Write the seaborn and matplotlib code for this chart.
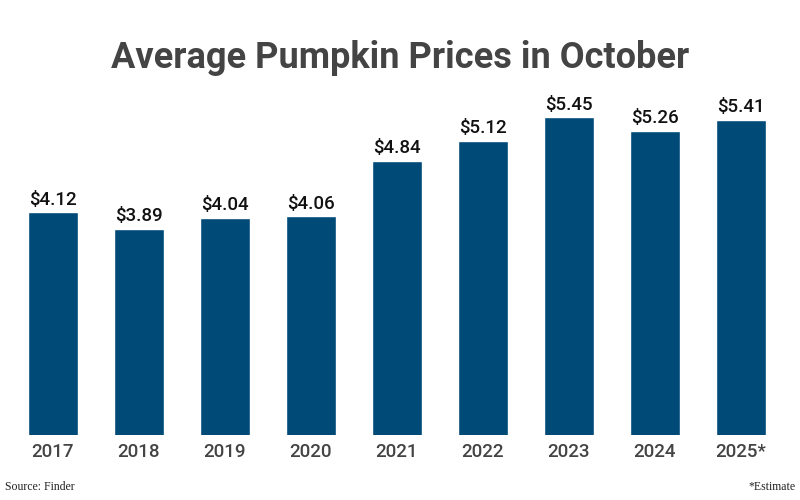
import pandas as pd
import seaborn as sns
import matplotlib.pyplot as plt

# data
years = ['2017', '2018', '2019', '2020', '2021', '2022', '2023', '2024', '2025*']
prices = [4.12, 3.89, 4.04, 4.06, 4.84, 5.12, 5.45, 5.26, 5.41]
labels = ['$4.12', '$3.89', '$4.04', '$4.06', '$4.84', '$5.12', '$5.45', '$5.26', '$5.41']

df = pd.DataFrame({'year': years, 'price': prices})

sns.set_style('white')
plt.rcParams['font.family'] = ['Roboto', 'DejaVu Sans']

fig = plt.figure(figsize=(8, 5), dpi=100)
ax = fig.add_axes([0.0125, 0.13, 0.9675, 0.68])

sns.barplot(data=df, x='year', y='price', color='#004a78', saturation=1,
            width=0.58, ax=ax)

# price labels on top of each bar
for i, p in enumerate(prices):
    ax.text(i, p + 0.05, labels[i], ha='center', va='bottom',
            fontsize=13.5, fontweight='medium', color='#111111')

ax.set_ylim(1, 5.76)
ax.set_xlim(-0.5, 8.5)
ax.set_xlabel('')
ax.set_ylabel('')
ax.set_yticks([])
ax.tick_params(axis='x', length=0, pad=6, labelsize=13.5, labelcolor='#444444')
for t in ax.get_xticklabels():
    t.set_fontweight('medium')
sns.despine(ax=ax, left=True, bottom=True)

fig.text(0.5, 0.885, 'Average Pumpkin Prices in October', ha='center', va='center',
         fontsize=26, fontweight='bold', color='#444444')
fig.text(0.006, 0.025, 'Source: Finder', ha='left', va='center',
         fontsize=8.5, family='Liberation Serif', color='#222222')
fig.text(0.994, 0.025, '*Estimate', ha='right', va='center',
         fontsize=8.5, family='Liberation Serif', color='#222222')

fig.savefig('out.png', dpi=100)
